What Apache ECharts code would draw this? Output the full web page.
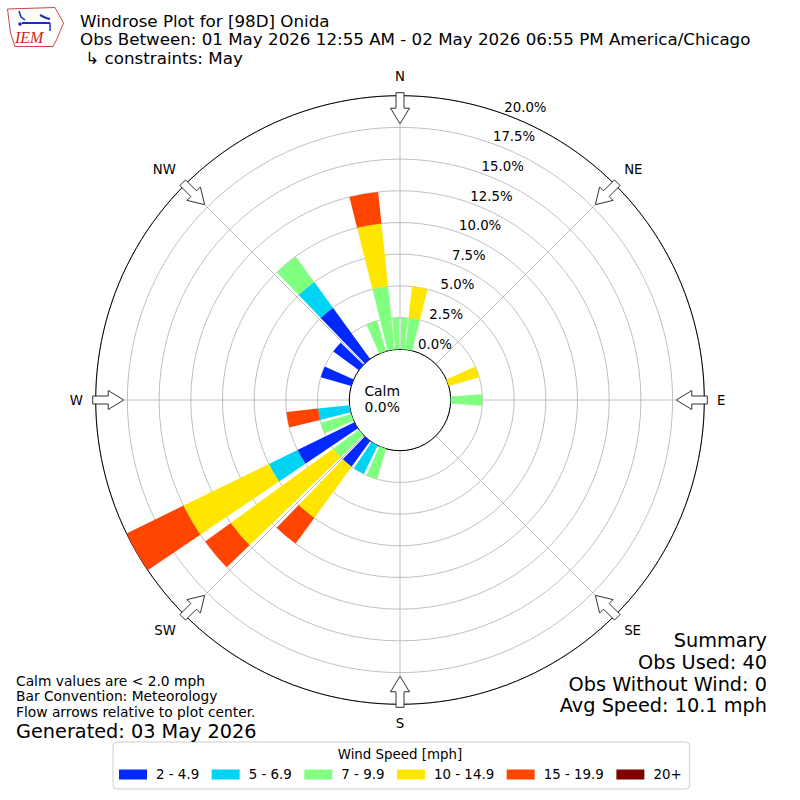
<!DOCTYPE html>
<html>
<head>
<meta charset="utf-8">
<script src="https://cdn.jsdelivr.net/npm/echarts@6/dist/echarts.min.js"></script>
<style>
html,body{margin:0;padding:0;background:#ffffff;}
#chart{width:800px;height:800px;}
</style>
</head>
<body>
<div id="chart"></div>
<script>
// ---- data (percent of observations, 40 obs total) ----
const directions = [0,10,20,30,40,50,60,70,80,90,100,110,120,130,140,150,160,170,
                    180,190,200,210,220,230,240,250,260,270,280,290,300,310,320,330,340,350];
const speedBins = ['2 - 4.9','5 - 6.9','7 - 9.9','10 - 14.9','15 - 19.9','20+'];
const binColors = ['#0028ff','#00d4f5','#80ff80','#ffe600','#ff4500','#800000'];
const spd2to5   = [0,0,0,0,0,0,0,0,0,0, 0,0,0,0,0,0,0,0,0,0, 0,0,2.5,0,5,0,0,0,0,2.5, 0,2.5,5,0,0,0];
const spd5to7   = [0,0,0,0,0,0,0,0,0,0, 0,0,0,0,0,0,0,0,0,0, 0,2.5,0,0,2.5,0,2.5,0,0,0, 0,0,2.5,0,0,0];
const spd7to10  = [2.5,2.5,0,0,0,0,0,0,0,2.5, 0,0,0,0,0,0,0,0,0,0, 2.5,0,0,2.5,0,2.5,0,0,0,0, 0,0,2.5,0,2.5,5];
const spd10to15 = [0,2.5,0,0,0,0,0,2.5,0,0, 0,0,0,0,0,0,0,0,0,0, 0,0,5,10,7.5,0,0,0,0,0, 0,0,0,0,0,5];
const spd15to20 = [0,0,0,0,0,0,0,0,0,0, 0,0,0,0,0,0,0,0,0,0, 0,0,2.5,2.5,5,0,2.5,0,0,0, 0,0,0,0,0,2.5];
const spd20plus = [0,0,0,0,0,0,0,0,0,0, 0,0,0,0,0,0,0,0,0,0, 0,0,0,0,0,0,0,0,0,0, 0,0,0,0,0,0];
const ringTicks = [0,2.5,5,7.5,10,12.5,15,17.5,20];
const compassLabels = ['N','NE','E','SE','S','SW','W','NW'];
const compassAngles = [0,45,90,135,180,225,270,315];
const summaryLines = ['Summary','Obs Used: 40','Obs Without Wind: 0','Avg Speed: 10.1 mph'];

const speedSeries = [spd2to5, spd5to7, spd7to10, spd10to15, spd15to20, spd20plus];
const FONT = 'DejaVu Sans';

// stacked [dir, base, top] items per speed bin
const cum = directions.map(() => 0);
const stackedData = speedSeries.map(vals => {
  const out = [];
  vals.forEach((v, i) => {
    if (v > 0) { out.push([directions[i], cum[i], cum[i] + v]); }
    cum[i] += v;
  });
  return out;
});

function screenAngle(api, cs, v, ang) {
  const p = api.coord([v, ang]);
  return Math.atan2(p[1] - cs.cy, p[0] - cs.cx);
}
function pixRadius(api, cs, v, ang) {
  const p = api.coord([v, ang]);
  return Math.hypot(p[0] - cs.cx, p[1] - cs.cy);
}

function renderBar(params, api) {
  const cs = params.coordSys;
  const dir = api.value(0), lo = api.value(1), hi = api.value(2);
  const r0 = pixRadius(api, cs, lo, dir);
  const r = pixRadius(api, cs, hi, dir);
  const pieces = dir === 0 ? [[-5.4, -0.8], [0.8, 5.4]] : [[-4, 4]];
  const color = api.visual('color');
  return {
    type: 'group',
    children: pieces.map(pc => {
      const s = screenAngle(api, cs, hi, dir + pc[0]);
      let e = screenAngle(api, cs, hi, dir + pc[1]);
      if (e < s) e += Math.PI * 2;
      return {
        type: 'sector',
        shape: { cx: cs.cx, cy: cs.cy, r0: r0, r: r, startAngle: s, endAngle: e, clockwise: true },
        style: { fill: color }
      };
    })
  };
}

function renderArrow(params, api) {
  const cs = params.coordSys;
  const a = api.value(0);
  const p = api.coord([ringTicks[ringTicks.length - 1], a]);
  const R = Math.hypot(p[0] - cs.cx, p[1] - cs.cy);
  const ux = (p[0] - cs.cx) / R, uy = (p[1] - cs.cy) / R;
  const px = -uy, py = ux;
  const pt = (rr, w) => [cs.cx + ux * rr + px * w, cs.cy + uy * rr + py * w];
  return {
    type: 'polygon',
    shape: { points: [pt(R + 3, -4), pt(R + 3, 4), pt(R - 12.5, 4), pt(R - 12.5, 9.5),
                      pt(R - 28, 0), pt(R - 12.5, -9.5), pt(R - 12.5, -4)] },
    style: { fill: '#ffffff', stroke: '#333333', lineWidth: 1 }
  };
}

function renderRingLabel(params, api) {
  const v = api.value(0);
  const p = api.coord([v, 20.9]);
  return {
    type: 'text',
    x: p[0] + 16.8, y: p[1] - 8.5,
    style: { text: v.toFixed(1) + '%', fontSize: 13.3, fontFamily: FONT, fill: '#000000',
             align: 'center', verticalAlign: 'middle' }
  };
}

const series = speedBins.map((name, k) => ({
  name: name,
  type: 'custom',
  coordinateSystem: 'polar',
  renderItem: renderBar,
  itemStyle: { color: binColors[k] },
  data: stackedData[k],
  z: 2,
  silent: true
}));
series.push({
  type: 'custom', coordinateSystem: 'polar', renderItem: renderRingLabel,
  data: ringTicks.map(v => [v]), z: 4, silent: true
});
series.push({
  type: 'custom', coordinateSystem: 'polar', renderItem: renderArrow,
  data: compassAngles.map(a => [a]), z: 5, silent: true
});

const summaryCenters = [640, 662.5, 684, 705.5];
const summaryTitles = summaryLines.map((t, i) => ({
  text: t, right: 33, top: summaryCenters[i] - 10.5, padding: 0,
  textStyle: { fontFamily: FONT, fontSize: 19.3, fontWeight: 'normal', color: '#000', lineHeight: 21 }
}));

const chart = echarts.init(document.getElementById('chart'), null, { renderer: 'svg', width: 800, height: 800 });
chart.setOption({
  animation: false,
  backgroundColor: '#ffffff',
  title: [
    { text: 'Windrose Plot for [98D] Onida\nObs Between: 01 May 2026 12:55 AM - 02 May 2026 06:55 PM America/Chicago\n ↳ constraints: May',
      left: 80, top: 12, padding: 0,
      textStyle: { fontFamily: FONT, fontSize: 16.7, fontWeight: 'normal', color: '#000', lineHeight: 18.3 } },
    { text: 'Calm\n0.0%', left: 'center', top: 383, padding: 0, textAlign: 'center',
      textStyle: { fontFamily: FONT, fontSize: 13.9, fontWeight: 'normal', color: '#000', lineHeight: 16 } },
    { text: 'Calm values are < 2.0 mph\nBar Convention: Meteorology\nFlow arrows relative to plot center.',
      left: 16, top: 672.75, padding: 0,
      textStyle: { fontFamily: FONT, fontSize: 13.8, fontWeight: 'normal', color: '#000', lineHeight: 15.5 } },
    { text: 'Generated: 03 May 2026', left: 16, top: 723, padding: 0,
      textStyle: { fontFamily: FONT, fontSize: 19.3, fontWeight: 'normal', color: '#000', lineHeight: 16 } },
    { text: 'Wind Speed [mph]', left: 'center', top: 746, padding: 0,
      textStyle: { fontFamily: FONT, fontSize: 13.4, fontWeight: 'normal', color: '#000', lineHeight: 16 } }
  ].concat(summaryTitles),
  legend: {
    data: speedBins,
    left: 113, top: 742, orient: 'horizontal',
    icon: 'rect', itemWidth: 28, itemHeight: 10, itemGap: 12.5,
    padding: [26, 8, 8, 6],
    borderColor: '#cccccc', borderWidth: 1, borderRadius: 4, backgroundColor: '#ffffff',
    selectedMode: false,
    textStyle: { fontFamily: FONT, fontSize: 13.4, color: '#000', padding: [0, 0, 0, 4] }
  },
  polar: { center: ['50%', '50%'], radius: [50.7, 304.3] },
  angleAxis: {
    type: 'value', min: 0, max: 360, interval: 45, startAngle: 90, clockwise: true, z: 1,
    axisLine: { show: true, lineStyle: { color: '#000000', width: 1 } },
    axisTick: { show: false },
    axisLabel: { show: true, margin: 12.7, align: 'center', verticalAlign: 'middle',
                 fontFamily: FONT, fontSize: 13.3, color: '#000',
                 formatter: v => { const i = compassAngles.indexOf(v); return i >= 0 ? compassLabels[i] : ''; } },
    splitLine: { show: true, lineStyle: { color: '#b0b0b0', width: 0.8 } }
  },
  radiusAxis: {
    type: 'value', min: 0, max: 20, interval: 2.5, z: 0,
    axisLine: { show: false }, axisTick: { show: false }, axisLabel: { show: false },
    splitLine: { show: true, lineStyle: { color: '#b0b0b0', width: 0.8 } }
  },
  graphic: [
    { type: 'polyline', silent: true,
      shape: { points: [[7.5,9],[55,7.5],[58,13],[63.5,23],[60,31.5],[56.5,40],[53,46.5],[15,46.5],[10.5,33],[7.5,9]] },
      style: { stroke: '#cc4444', lineWidth: 1, fill: null } },
    { type: 'polyline', silent: true, shape: { points: [[19,11],[21,17],[25,20]] },
      style: { stroke: '#1a2bd6', lineWidth: 1.5, fill: null } },
    { type: 'line', silent: true, shape: { x1: 22, y1: 23, x2: 50, y2: 23 },
      style: { stroke: '#1a2bd6', lineWidth: 2 } },
    { type: 'polyline', silent: true, shape: { points: [[40,15],[46,18],[50,19]] },
      style: { stroke: '#1a2bd6', lineWidth: 2, fill: null } },
    { type: 'line', silent: true, shape: { x1: 50, y1: 23, x2: 50, y2: 31 },
      style: { stroke: '#1a2bd6', lineWidth: 1.5 } },
    { type: 'circle', silent: true, shape: { cx: 20, cy: 24, r: 1.8 }, style: { fill: '#1a2bd6' } },
    { type: 'text', silent: true, x: 15, y: 45,
      style: { text: 'IEM', font: 'italic 16px "Liberation Serif"', fill: '#cc2222', verticalAlign: 'bottom' } }
  ],
  series: series
});
</script>
</body>
</html>
